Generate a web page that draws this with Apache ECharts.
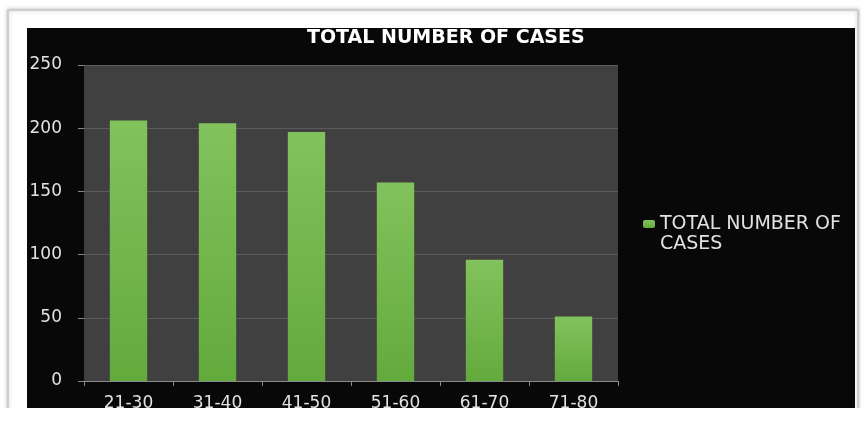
<!DOCTYPE html>
<html>
<head>
<meta charset="utf-8">
<title>Total number of cases</title>
<script src="https://cdn.jsdelivr.net/npm/echarts@6/dist/echarts.min.js"></script>
<style>
  html, body { margin: 0; padding: 0; background: #fff; }
  #main { width: 861px; height: 421px; }
</style>
</head>
<body>
<div id="main"></div>
<script>
// age groups on the x axis
var ageGroups = ["21-30", "31-40", "41-50", "51-60", "61-70", "71-80"];
// number of cases per age group
var caseCounts = [206, 204, 197, 157, 96, 51];
var seriesName = "TOTAL NUMBER OF CASES";

var chart = echarts.init(document.getElementById("main"));

var font = "DejaVu Sans";
var labelColor = "#e2e2e2";

var option = {
  backgroundColor: "#fff",
  textStyle: { fontFamily: font },
  title: {
    text: "TOTAL NUMBER OF CASES",
    left: 302,
    top: 24,
    textStyle: { color: "#fff", fontSize: 19, fontWeight: "bold", fontFamily: font }
  },
  legend: {
    data: [seriesName],
    left: 643,
    top: 214,
    padding: 0,
    itemWidth: 12,
    itemHeight: 8,
    itemGap: 0,
    // the legend text wraps onto a second line in the original, see graphic below
    formatter: function () {
      return "TOTAL NUMBER OF";
    },
    textStyle: { color: labelColor, fontSize: 19, lineHeight: 20, fontFamily: font }
  },
  grid: {
    left: 84,
    right: 243,
    top: 65,
    bottom: 40,
    show: true,
    backgroundColor: "#404040",
    borderWidth: 0
  },
  xAxis: {
    type: "category",
    data: ageGroups,
    axisLine: { lineStyle: { color: "#8a8a8a" } },
    axisTick: { show: true, length: 5, lineStyle: { color: "#8a8a8a" } },
    axisLabel: { color: labelColor, fontSize: 17, margin: 14, fontFamily: font }
  },
  yAxis: {
    type: "value",
    min: 0,
    max: 250,
    interval: 50,
    axisLine: { show: false },
    axisTick: { show: true, length: 6, lineStyle: { color: "#8a8a8a" } },
    axisLabel: { color: labelColor, fontSize: 17, margin: 22, fontFamily: font },
    splitLine: { lineStyle: { color: "#5c5c5c", width: 1 } }
  },
  graphic: [
    {
      type: "rect",
      z: -20,
      silent: true,
      shape: { x: 8, y: 10, width: 850, height: 402 },
      style: { fill: "#fff", stroke: "#c8c8c8", lineWidth: 1.5, shadowBlur: 4, shadowColor: "rgba(0,0,0,0.25)" }
    },
    {
      type: "rect",
      z: -10,
      silent: true,
      shape: { x: 27, y: 28, width: 828, height: 380 },
      style: { fill: "#080808" }
    },
    {
      // second line of the legend label
      type: "text",
      z: 10,
      silent: true,
      style: {
        x: 660,
        y: 244,
        text: "CASES",
        fill: labelColor,
        font: "19px " + font,
        verticalAlign: "middle"
      }
    },
    {
      // the picture is cut off just under the axis labels
      type: "rect",
      z: 100,
      silent: true,
      shape: { x: 0, y: 408, width: 861, height: 13 },
      style: { fill: "#fff" }
    }
  ],
  series: [
    {
      name: seriesName,
      type: "bar",
      data: caseCounts,
      barCategoryGap: "58%",
      itemStyle: {
        color: new echarts.graphic.LinearGradient(0, 0, 0, 1, [
          { offset: 0, color: "#82c25c" },
          { offset: 1, color: "#63aa3d" }
        ])
      }
    }
  ]
};

chart.setOption(option);
</script>
</body>
</html>
